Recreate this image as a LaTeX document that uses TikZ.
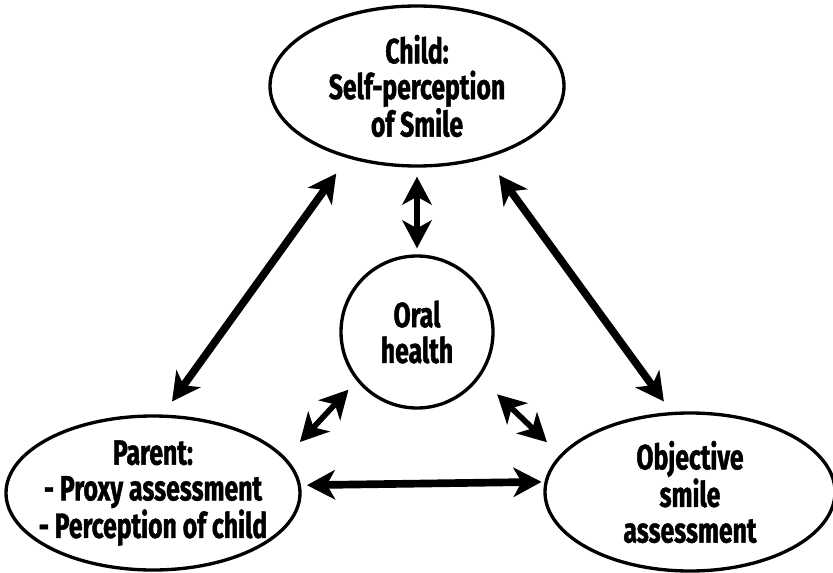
\documentclass[tikz,border=0pt]{standalone}
\usepackage{fontspec}
\setmainfont{Fira Sans}[FakeStretch=0.705,BoldFeatures={FakeBold=1.2}]
\usepackage{tikz}
\usetikzlibrary{arrows.meta,shapes.geometric}
\tikzset{
  ar/.style={{Stealth[length=8.4mm,width=8.8mm,inset=2.4mm]}-{Stealth[length=8.4mm,width=8.8mm,inset=2.4mm]},line width=2.3mm},
  sar/.style={ar,line width=1.7mm},
  lbl/.style={align=center,font=\fontsize{30}{30.5}\selectfont\bfseries},
  ell/.style={lbl,ellipse,draw,line width=1mm,inner xsep=-15mm,inner ysep=-5mm},
  circ/.style={lbl,circle,draw,line width=1mm,inner sep=-5mm,minimum size=45.6mm}
}
\begin{document}
\begin{tikzpicture}[x=0.3mm,y=-0.3mm]
\useasboundingbox (0,0) rectangle (833,573);
\node[ell,minimum width=88.2mm,minimum height=48mm] (child) at (417,86) {Child:\\Self-perception\\of Smile};
\node[ell,minimum width=88.2mm,minimum height=46.2mm] (parent) at (153,493) {Parent:\\- Proxy assessment\\- Perception of child};
\node[ell,minimum width=87mm,minimum height=47.4mm] (obj) at (690,492) {Objective\\smile\\assessment};
\node[circ] (oral) at (417,332) {Oral\\health};
\draw[ar,shorten <=5.7mm,shorten >=4.8mm] (child.226.5) -- (parent.83.7);
\draw[ar,shorten <=6.3mm,shorten >=3.9mm] (child.314.5) -- (obj.103.9);
\draw[sar,shorten <=2.7mm,shorten >=1.8mm] (child.south) -- (oral.north);
\draw[sar,shorten <=3.6mm,shorten >=6.3mm] (oral.219.6) -- (parent.15.4);
\draw[sar,shorten <=7.2mm,shorten >=5.4mm] (oral.324.6) -- (obj.164.9);
\draw[ar,shorten <=1.8mm,shorten >=0.9mm] (parent.3.5) -- (obj.176.8);
\end{tikzpicture}
\end{document}
